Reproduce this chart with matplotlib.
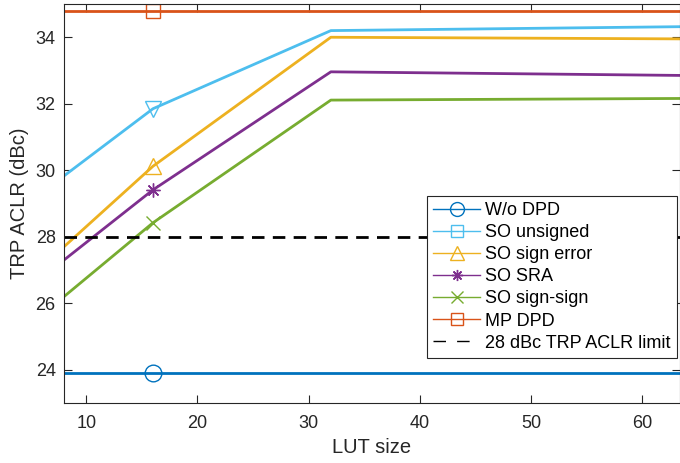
import matplotlib.pyplot as plt
from matplotlib.lines import Line2D

plt.rcParams['font.family'] = ['Liberation Sans', 'DejaVu Sans']

lut = [8, 16, 32, 64]
wo_dpd = [23.9, 23.9, 23.9, 23.9]
so_unsigned = [29.83, 31.85, 34.2, 34.32]
so_sign_error = [27.7, 30.12, 34.0, 33.95]
so_sra = [27.3, 29.41, 32.96, 32.85]
so_sign_sign = [26.2, 28.42, 32.11, 32.16]
mp_dpd = [34.8, 34.8, 34.8, 34.8]
limit = [28, 28, 28, 28]

labels = ["W/o DPD", "SO unsigned", "SO sign error", "SO SRA",
          "SO sign-sign", "MP DPD", "28 dBc TRP ACLR limit"]
colors = ["#0072BD", "#4DBEEE", "#EDB120", "#7E2F8E", "#77AC30", "#D95319"]
asterisk = (8, 2, 0)
plot_markers = ["o", "v", "^", asterisk, "x", "s"]
legend_markers = ["o", "s", "^", asterisk, "x", "s"]
series = [wo_dpd, so_unsigned, so_sign_error, so_sra, so_sign_sign, mp_dpd]

fig = plt.figure(figsize=(6.8, 4.63), dpi=100)
ax = fig.add_axes([64 / 680, 60 / 463, 1 - 64 / 680, 399 / 463])

for y, c, m in zip(series, colors, plot_markers):
    ms = 12 if m in ("o", "v", "^") else 10
    ax.plot(lut, y, color=c, lw=2, marker=m, markevery=[1], ms=ms,
            mfc="none", mec=c, mew=1.0)
ax.plot(lut, limit, color="black", lw=2, ls=(0, (4.5, 3)))

ax.set_xlim(8, 63.4)
ax.set_ylim(23, 35)
ax.set_xticks([10, 20, 30, 40, 50, 60])
ax.set_yticks([24, 26, 28, 30, 32, 34])
ax.tick_params(direction="in", length=6, labelsize=13, colors="#262626",
               top=True, right=True, width=0.8)
ax.tick_params(axis="x", pad=9)
ax.tick_params(axis="y", pad=6)
for s in ax.spines.values():
    s.set_color("#262626")
    s.set_linewidth(0.8)
ax.set_xlabel("LUT size", fontsize=14.5, color="#262626", labelpad=4)
ax.set_ylabel("TRP ACLR (dBc)", fontsize=14.5, color="#262626", labelpad=5)

handles = []
for c, m in zip(colors, legend_markers):
    ms = 10 if m in ("o", "^") else 8
    handles.append(Line2D([], [], color=c, lw=1, marker=m, ms=ms,
                          mfc="none", mec=c, mew=1.0))
handles.append(Line2D([], [], color="black", lw=1, ls=(0, (9, 8))))
leg = ax.legend(handles, labels, loc="lower right",
                bbox_to_anchor=(0.9955, 0.113), fontsize=13, frameon=True,
                fancybox=False, edgecolor="#262626", framealpha=1,
                handlelength=2.6, handletextpad=0.3, labelspacing=0.28,
                borderpad=0.35, borderaxespad=0)
leg.get_frame().set_linewidth(0.8)

fig.savefig("out.png", dpi=100)
